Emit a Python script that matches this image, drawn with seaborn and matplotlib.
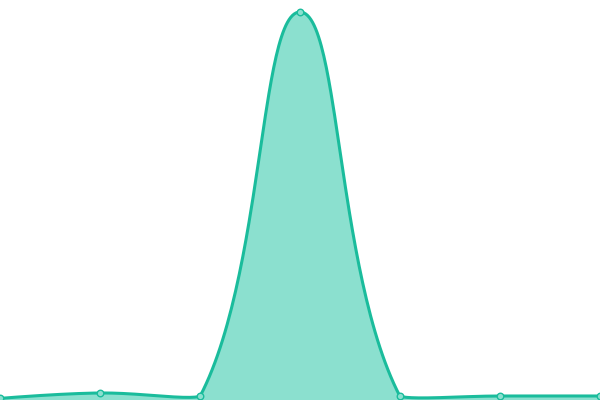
import numpy as np
import seaborn as sns
import matplotlib
matplotlib.use("Agg")
import matplotlib.pyplot as plt

# values (y axis 0..100)
labels = ["0", "1", "2", "3", "4", "5", "6"]
values = [0.4, 1.75, 0.9, 97.0, 0.9, 1.0, 1.0]

line_color = "#1abc9c"
fill_color = "#8be0cf"

sns.set_style("white")
fig = plt.figure(figsize=(6, 4), dpi=100)
ax = fig.add_axes([0, 0, 1, 1])
ax.set_xlim(0, len(labels) - 1)
ax.set_ylim(0, 100)
ax.axis("off")

# points in pixel space so the spline behaves like a chart.js tension curve
x = np.arange(len(values), dtype=float)
pts = ax.transData.transform(np.column_stack([x, values]))
bbox = ax.bbox
tension = 0.4
n = len(pts)
cp_prev = pts.copy()
cp_next = pts.copy()
for i in range(1, n - 1):
    p0, p1, p2 = pts[i - 1], pts[i], pts[i + 1]
    d01 = np.hypot(*(p1 - p0))
    d12 = np.hypot(*(p2 - p1))
    fa = tension * d01 / (d01 + d12)
    fb = tension * d12 / (d01 + d12)
    cp_prev[i] = p1 - fa * (p2 - p0)
    cp_next[i] = p1 + fb * (p2 - p0)

# keep control points inside the plot area
for cp in (cp_prev, cp_next):
    cp[:, 0] = np.clip(cp[:, 0], bbox.x0, bbox.x1)
    cp[:, 1] = np.clip(cp[:, 1], bbox.y0, bbox.y1)

t = np.linspace(0, 1, 60)[:, None]
curve = []
for i in range(n - 1):
    a, b, c, d = pts[i], cp_next[i], cp_prev[i + 1], pts[i + 1]
    seg = ((1 - t) ** 3) * a + 3 * ((1 - t) ** 2) * t * b + 3 * (1 - t) * t ** 2 * c + t ** 3 * d
    curve.append(seg)
curve = np.vstack(curve)
curve = ax.transData.inverted().transform(curve)

ax.fill_between(curve[:, 0], curve[:, 1], 0, color=fill_color, linewidth=0)
ax.plot(curve[:, 0], curve[:, 1], color=line_color, linewidth=2.2, solid_capstyle="round")
sns.scatterplot(x=x, y=values, ax=ax, s=22, color=fill_color, edgecolor=line_color,
                linewidth=1.0, zorder=5, clip_on=False)

fig.savefig("out.png", dpi=100)
